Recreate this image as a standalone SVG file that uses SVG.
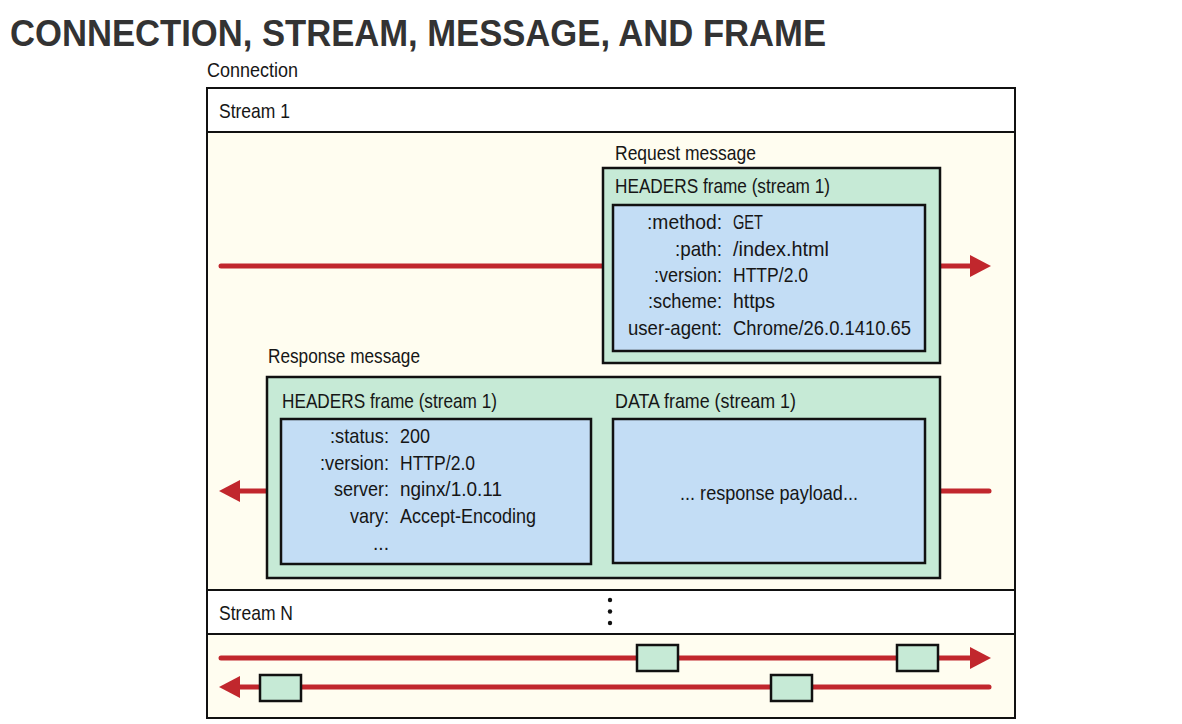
<svg xmlns="http://www.w3.org/2000/svg" width="1182" height="724" viewBox="0 0 1182 724">
<style>
.t{font-family:"Liberation Sans",Arial,sans-serif;font-size:21px;fill:#161616}
.e{text-anchor:end}
.title{font-family:"Liberation Sans",Arial,sans-serif;font-weight:bold;font-size:36px;fill:#333333}
.band{fill:#ffffff;stroke:#111;stroke-width:2}
.body{fill:#fffdf0;stroke:#111;stroke-width:2}
.msg{fill:#c6ead6;stroke:#111;stroke-width:2.5}
.hdr{fill:#c3ddf5;stroke:#111;stroke-width:2.5}
.fr{fill:#c6ead6;stroke:#111;stroke-width:2.5}
.ln{stroke:#c1272d;stroke-width:5;stroke-linecap:round;fill:none}
.ah{fill:#c1272d}
</style>
<rect width="1182" height="724" fill="#ffffff"/>
<text class="title" x="10" y="46" textLength="816" lengthAdjust="spacingAndGlyphs">CONNECTION, STREAM, MESSAGE, AND FRAME</text>
<g id="connection">
<text class="t" x="207" y="77" textLength="91" lengthAdjust="spacingAndGlyphs">Connection</text>
<rect class="body" x="207" y="88" width="808" height="630"/>
</g>
<g id="stream1">
<rect class="band" x="207" y="88" width="808" height="44"/>
<text class="t" x="219" y="118" textLength="71" lengthAdjust="spacingAndGlyphs">Stream 1</text>
<rect class="body" x="207" y="132" width="808" height="458"/>
</g>
<g id="streamN">
<rect class="band" x="207" y="590" width="808" height="44"/>
<text class="t" x="219" y="620" textLength="74" lengthAdjust="spacingAndGlyphs">Stream N</text>
<circle cx="610" cy="600" r="2.2" fill="#111"/>
<circle cx="610" cy="611.5" r="2.2" fill="#111"/>
<circle cx="610" cy="623" r="2.2" fill="#111"/>
<rect class="body" x="207" y="634" width="808" height="84"/>
</g>
<g id="connectors">
<line class="ln" x1="221" y1="266" x2="603" y2="266"/>
<line class="ln" x1="940" y1="266" x2="972" y2="266"/>
<polygon class="ah" points="970,255 991,266 970,277"/>
<line class="ln" x1="238" y1="491" x2="267" y2="491"/>
<polygon class="ah" points="240,480 219,491 240,502"/>
<line class="ln" x1="940" y1="491" x2="989" y2="491"/>
<line class="ln" x1="221" y1="658" x2="972" y2="658"/>
<polygon class="ah" points="970,647 991,658 970,669"/>
<line class="ln" x1="238" y1="687" x2="989" y2="687"/>
<polygon class="ah" points="240,676 219,687 240,698"/>
</g>
<g id="request">
<text class="t" x="615" y="160" textLength="141" lengthAdjust="spacingAndGlyphs">Request message</text>
<rect class="msg" x="603" y="168" width="337" height="195"/>
<text class="t" x="615" y="193" textLength="215" lengthAdjust="spacingAndGlyphs">HEADERS frame (stream 1)</text>
<rect class="hdr" x="613" y="205" width="312" height="146"/>
<text class="t e" x="722" y="229" textLength="75" lengthAdjust="spacingAndGlyphs">:method:</text>
<text class="t" x="733" y="229" textLength="30" lengthAdjust="spacingAndGlyphs">GET</text>
<text class="t e" x="722" y="256" textLength="47" lengthAdjust="spacingAndGlyphs">:path:</text>
<text class="t" x="733" y="256" textLength="96" lengthAdjust="spacingAndGlyphs">/index.html</text>
<text class="t e" x="722" y="282" textLength="68" lengthAdjust="spacingAndGlyphs">:version:</text>
<text class="t" x="733" y="282" textLength="75" lengthAdjust="spacingAndGlyphs">HTTP/2.0</text>
<text class="t e" x="722" y="308" textLength="74" lengthAdjust="spacingAndGlyphs">:scheme:</text>
<text class="t" x="733" y="308" textLength="42" lengthAdjust="spacingAndGlyphs">https</text>
<text class="t e" x="722" y="335" textLength="94" lengthAdjust="spacingAndGlyphs">user-agent:</text>
<text class="t" x="733" y="335" textLength="178" lengthAdjust="spacingAndGlyphs">Chrome/26.0.1410.65</text>
</g>
<g id="response">
<text class="t" x="268" y="363" textLength="152" lengthAdjust="spacingAndGlyphs">Response message</text>
<rect class="msg" x="267" y="377" width="673" height="201"/>
<text class="t" x="282" y="408" textLength="215" lengthAdjust="spacingAndGlyphs">HEADERS frame (stream 1)</text>
<rect class="hdr" x="281" y="419" width="310" height="145"/>
<text class="t e" x="389" y="443" textLength="59" lengthAdjust="spacingAndGlyphs">:status:</text>
<text class="t" x="400" y="443" textLength="30" lengthAdjust="spacingAndGlyphs">200</text>
<text class="t e" x="389" y="470" textLength="69" lengthAdjust="spacingAndGlyphs">:version:</text>
<text class="t" x="400" y="470" textLength="75" lengthAdjust="spacingAndGlyphs">HTTP/2.0</text>
<text class="t e" x="389" y="496" textLength="55" lengthAdjust="spacingAndGlyphs">server:</text>
<text class="t" x="400" y="496" textLength="102" lengthAdjust="spacingAndGlyphs">nginx/1.0.11</text>
<text class="t e" x="389" y="523" textLength="39" lengthAdjust="spacingAndGlyphs">vary:</text>
<text class="t" x="400" y="523" textLength="136" lengthAdjust="spacingAndGlyphs">Accept-Encoding</text>
<text class="t e" x="389" y="550" textLength="16" lengthAdjust="spacingAndGlyphs">...</text>
<text class="t" x="615" y="408" textLength="181" lengthAdjust="spacingAndGlyphs">DATA frame (stream 1)</text>
<rect class="hdr" x="613" y="419" width="312" height="144"/>
<text class="t" x="680" y="500" textLength="178" lengthAdjust="spacingAndGlyphs">... response payload...</text>
</g>
<g id="frames">
<rect class="fr" x="637" y="645" width="41" height="26"/>
<rect class="fr" x="897" y="645" width="41" height="26"/>
<rect class="fr" x="260" y="675" width="41" height="26"/>
<rect class="fr" x="771" y="675" width="41" height="26"/>
</g>
</svg>
